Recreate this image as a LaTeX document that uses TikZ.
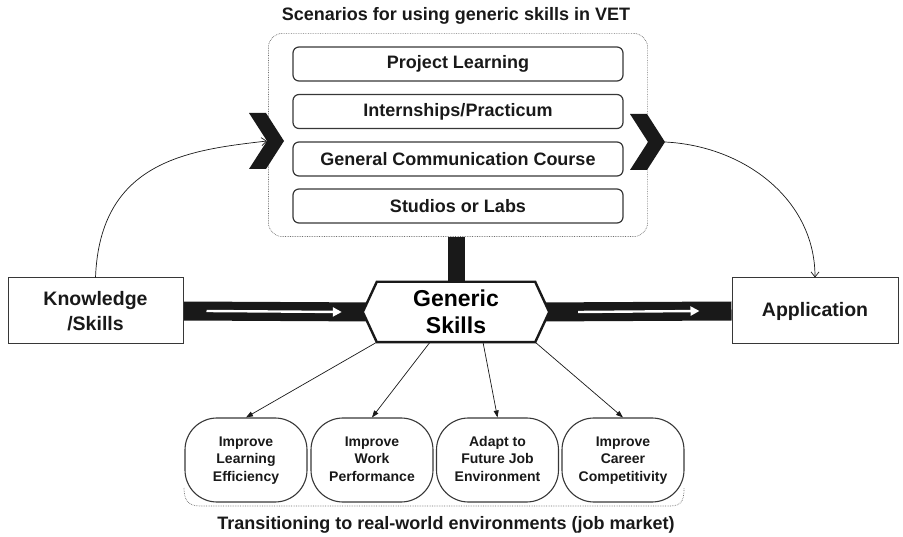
\documentclass[tikz,border=0pt]{standalone}
\usepackage{fontspec}
\setmainfont{Liberation Sans}
\usetikzlibrary{positioning,fit,backgrounds,arrows.meta}
\definecolor{vetink}{RGB}{25,25,25}
\definecolor{vetline}{RGB}{55,55,55}
\definecolor{vetdots}{RGB}{110,110,110}

\tikzset{
  scenario/.style={draw=vetline, line width=1.2pt, rounded corners=6pt, minimum width=330pt, minimum height=34pt, font=\fontsize{18}{20}\selectfont\bfseries, text=vetink},
  outcome/.style={draw=vetline, line width=1.1pt, rounded corners=32pt, minimum width=122pt, minimum height=84pt, align=center, font=\fontsize{14}{17.5}\selectfont\bfseries, text=vetink},
  endbox/.style={draw=vetline, line width=1pt, minimum height=66pt, align=center, font=\fontsize{19.5}{24.5}\selectfont\bfseries, text=vetink},
  dotbox/.style={draw=vetdots, densely dotted, line width=0.7pt, rounded corners=14pt},
  bar/.style={line width=19pt, vetink},
  whitearrow/.style={white, line width=2.4pt, -{Triangle[length=9pt,width=9pt]}},
  thinarrow/.style={vetink, line width=0.7pt, -{Triangle[length=7pt,width=5pt]}},
  curvearrow/.style={vetink, line width=0.7pt, -{Straight Barb[length=5pt,width=8pt]}},
  caption/.style={font=\fontsize{18}{20}\selectfont\bfseries, text=vetink},
}

\begin{document}
\begin{tikzpicture}[x=1pt,y=-1pt]
\useasboundingbox (0,0) rectangle (903,537);

% scenarios block
\node[caption] (title) at (456,16) {Scenarios for using generic skills in VET};
\foreach \y/\name/\txt in {64/pl/{Project Learning}, 111.5/ip/{Internships/Practicum}, 159/gc/{General Communication Course}, 206/sl/{Studios or Labs}}{
  \node[scenario] (\name) at (458,\y) {\txt};
}
\node[dotbox, fit=(pl)(sl), inner xsep=24pt, inner ysep=13pt] (scen) {};

% chevrons either side
\foreach \cx/\cy/\name in {266/141/lch, 647/142/rch}{
  \fill[vetink] (\cx-17,\cy-28) -- (\cx,\cy-28) -- (\cx+18,\cy) -- (\cx,\cy+28) -- (\cx-17,\cy+28) -- (\cx+1,\cy) -- cycle;
  \coordinate (\name-in) at (\cx+1,\cy);
  \coordinate (\name-tip) at (\cx+18,\cy);
}

% main row
\node[endbox, minimum width=175pt] (kn) at (95.5,311) {Knowledge\\/Skills};
\node[endbox, minimum width=166pt] (ap) at (815,311) {Application};
\node[inner sep=0pt, minimum width=158pt, minimum height=60pt, align=center,
      font=\fontsize{23}{27}\selectfont\bfseries, text=black] (gs) at (456,312) {Generic\\Skills};

\begin{scope}[on background layer]
\draw[bar] (kn.east) -- (gs.west);
\draw[bar] (gs.east) -- (ap.west);
\draw[line width=17pt, vetink] (scen.south -| gs.north) -- (gs.north);
\filldraw[fill=white, draw=vetink, line width=2.4pt] (gs.north west) -- (gs.north east)
  -- ([xshift=14pt]gs.east) -- (gs.south east) -- (gs.south west) -- ([xshift=-14pt]gs.west) -- cycle;
\end{scope}

\draw[whitearrow] ([xshift=23pt]kn.east) -- ([xshift=-35pt]gs.west);
\draw[whitearrow] ([xshift=43pt]gs.east) -- ([xshift=-32pt]ap.west);

\draw[curvearrow] (kn.north) .. controls (100,160) and (190,150) .. (lch-in);
\draw[curvearrow] (rch-tip) .. controls (745,146) and (815,200) .. (ap.north);

% outcomes
\foreach \x/\name/\txt in {246/lrn/{Improve\\Learning\\Efficiency}, 372/wrk/{Improve\\Work\\Performance}, 497.5/fut/{Adapt to\\Future Job\\Environment}, 623/car/{Improve\\Career\\Competitivity}}{
  \node[outcome] (\name) at (\x,460) {\strut\txt\strut};
}
\draw[thinarrow] (gs.south west) -- (lrn.north);
\draw[thinarrow] ([xshift=-26pt]gs.south) -- (wrk.north);
\draw[thinarrow] ([xshift=27pt]gs.south) -- (fut.north);
\draw[thinarrow] (gs.south east) -- (car.north);

\draw[vetdots, densely dotted, line width=0.7pt] (184,488) .. controls (184,500) and (188,506) .. (200,506)
  -- (670,506) .. controls (682,506) and (684,500) .. (684,488);
\node[caption] (jobs) at (446,525) {Transitioning to real-world environments (job market)};
\end{tikzpicture}
\end{document}
